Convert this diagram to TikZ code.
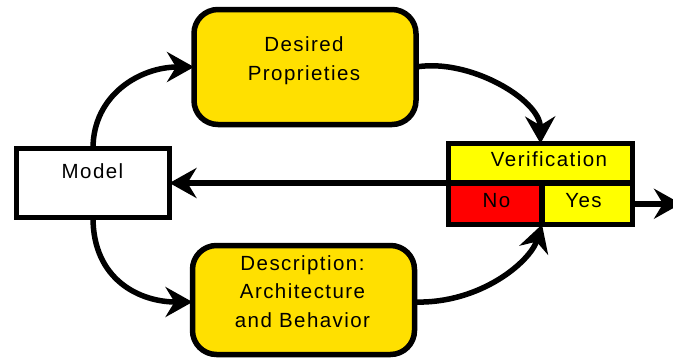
\documentclass[tikz,border=0pt]{standalone}
\usepackage{fontspec}
\setmainfont{Liberation Sans}[LetterSpace=7]
\usetikzlibrary{arrows.meta}
\definecolor{boxgold}{HTML}{FFE000}
\definecolor{veryellow}{HTML}{FFFF00}
\definecolor{nored}{HTML}{FF0000}
\tikzset{
  lbl/.style={font=\fontsize{20.5}{28.5}\selectfont, align=center, inner sep=0pt},
  onelbl/.style={lbl, text height=14.5pt, text depth=0pt},
  goldbox/.style={draw, line width=5.5pt, fill=boxgold, rounded corners=24pt, outer sep=0pt, inner sep=0pt},
  plainbox/.style={draw, line width=5.5pt, fill=white, outer sep=0pt, inner sep=0pt},
  cell/.style={draw, line width=5.5pt, outer sep=0pt, inner sep=0pt},
  flow/.style={line width=5.5pt, -{Stealth[length=27pt,width=30pt,inset=9pt]}},
}
\begin{document}
\begin{tikzpicture}[x=1pt,y=-1pt]
\useasboundingbox (0,0) rectangle (673,360);
% boxes
\node[plainbox, minimum width=153pt, minimum height=69pt] (model) at (93,183) {};
\node[onelbl] (modeltxt) at (92.5,171) {Model};
\node[goldbox, minimum width=222pt, minimum height=115pt] (desired) at (305,67) {};
\node[lbl] (desiredtxt) at (304,60.5) {Desired\\Proprieties};
\node[goldbox, minimum width=222pt, minimum height=109pt] (desc) at (303.5,300) {};
\node[lbl] (desctxt) at (302.5,291.5) {Description:\\Architecture\\and Behavior};
% verification
\node[cell, fill=veryellow, minimum width=184pt, minimum height=39.5pt] (ver) at (540.5,163.25) {};
\node[cell, fill=nored, minimum width=93.5pt, minimum height=41.5pt] (no) at (495.25,203.75) {};
\node[cell, fill=veryellow, minimum width=90.5pt, minimum height=41.5pt] (yes) at (587.25,203.75) {};
\node[onelbl] (vertxt) at (549,159) {Verification};
\node[onelbl] (notxt) at (496.5,200) {No};
\node[onelbl] (yestxt) at (583.5,200) {Yes};
\coordinate (exit) at (681,203.75);
% connectors
\draw[flow] (model.north) .. controls (93,95) and (140,67) .. (desired.west);
\draw[flow] (desired.east) .. controls (470,58) and (540,100) .. (ver.north);
\draw[flow] (no.north west) -- (model.east);
\draw[flow] (model.south) .. controls (93,280) and (140,302) .. (desc.west |- 0,302);
\draw[flow] (desc.east |- 0,302) .. controls (480,304) and (530,262) .. (no.south east);
\draw[flow] (yes.east) -- (exit);
\end{tikzpicture}
\end{document}
